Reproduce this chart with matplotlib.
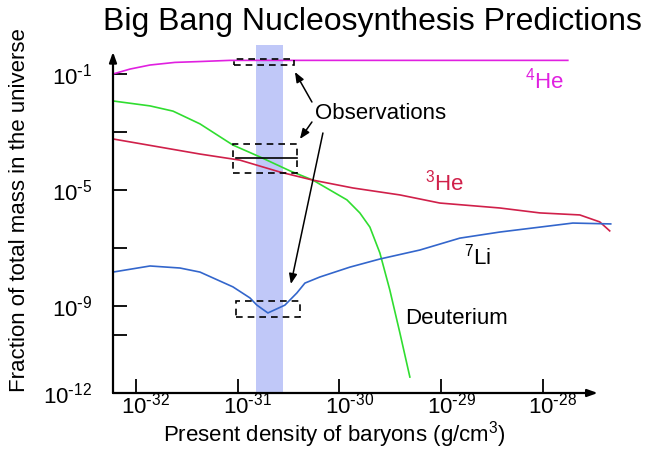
import numpy as np
import matplotlib.pyplot as plt
from matplotlib.patches import Rectangle
from matplotlib.ticker import FixedLocator, FuncFormatter, NullLocator
import matplotlib.transforms as mtransforms

plt.rcParams['font.family'] = ['Liberation Sans', 'DejaVu Sans']

# curves, stored as log10 values
he4_logx = [-32.226, -32.059, -31.862, -31.617, -31.371, -31.076, -30.388, -27.754]
he4_logy = [-1.0, -0.83, -0.69, -0.60, -0.57, -0.53, -0.53, -0.53]

d_logx = [-32.226, -31.862, -31.636, -31.371, -31.047, -30.781, -30.486, -30.260,
          -29.926, -29.799, -29.700, -29.602, -29.504, -29.405, -29.307]
d_logy = [-1.93, -2.10, -2.28, -2.72, -3.45, -3.86, -4.34, -4.66,
          -5.34, -5.79, -6.28, -7.17, -8.45, -9.93, -11.45]

he3_logx = [-32.226, -31.371, -30.978, -30.585, -30.260, -29.867, -29.405, -29.012,
            -28.423, -28.029, -27.636, -27.440, -27.342]
he3_logy = [-3.24, -3.76, -3.97, -4.38, -4.66, -4.93, -5.17, -5.45,
            -5.62, -5.79, -5.86, -6.10, -6.41]

li7_logx = [-32.226, -31.862, -31.568, -31.371, -31.047, -30.880, -30.811, -30.703,
            -30.536, -30.418, -30.339, -30.192, -29.897, -29.602, -29.209, -28.816,
            -28.423, -28.029, -27.705, -27.332]
li7_logy = [-7.83, -7.62, -7.69, -7.83, -8.34, -8.72, -8.97, -9.24,
            -8.97, -8.55, -8.21, -8.00, -7.66, -7.38, -7.07, -6.66,
            -6.45, -6.28, -6.14, -6.17]

# baryon density band and observation boxes (log10 x range, log10 y range)
band_logx = [-30.821, -30.555]
obs_he4 = ([-31.037, -30.447], [-0.69, -0.483])
obs_d = ([-31.047, -30.418], [-4.414, -3.414])
obs_d_line = ([-31.017, -30.418], -3.897)
obs_li = ([-31.017, -30.388], [-9.379, -8.828])

x_tick_exp = [-32, -31, -30, -29, -28]
y_tick_exp = [-12, -10, -9, -7, -5, -3, -1]
y_label_exp = [-12, -9, -5, -1]

MAGENTA = '#e020e0'
RED = '#d0204a'
GREEN = '#30dd30'
BLUE = '#3366cc'


def pow_label(e):
    # short hyphen like the original instead of the long math minus
    return r'$\mathregular{10^{\text{-}%d}}$' % abs(e)


fig = plt.figure(figsize=(6.55, 4.5), dpi=100)
ax = fig.add_axes([113 / 655, 57 / 450, 502 / 655, 348 / 450])
ax.set_xscale('log')
ax.set_yscale('log')
xmin = 10 ** -32.226
ax.set_xlim(xmin, 10 ** -27.29)
ax.set_ylim(1e-12, 1e0)

ax.axvspan(10 ** band_logx[0], 10 ** band_logx[1], color='#c0c8f8', lw=0, zorder=0)

p = lambda v: 10 ** np.array(v)
ax.plot(p(he4_logx), p(he4_logy), color=MAGENTA, lw=1.2, zorder=3)
ax.plot(p(d_logx), p(d_logy), color=GREEN, lw=1.2, zorder=3)
ax.plot(p(he3_logx), p(he3_logy), color=RED, lw=1.2, zorder=3)
ax.plot(p(li7_logx), p(li7_logy), color=BLUE, lw=1.2, zorder=3)

for bx, by in [obs_he4, obs_d, obs_li]:
    x0, x1 = p(bx)
    y0, y1 = p(by)
    ax.add_patch(Rectangle((x0, y0), x1 - x0, y1 - y0, fill=False, ec='black',
                           lw=1.2, ls=(0, (4, 3)), zorder=4))
ax.plot(p(obs_d_line[0]), [10 ** obs_d_line[1]] * 2, color='black', lw=1.2, zorder=4)

# arrows from the "Observations" text to the boxes
arrow_kw = dict(arrowstyle='-|>,head_length=0.5,head_width=0.2', color='black',
                lw=1.1, shrinkA=0, shrinkB=0, mutation_scale=12)
arrows = [((-30.270, -1.966), (-30.437, -0.931)),
          ((-30.270, -2.655), (-30.388, -3.241)),
          ((-30.162, -3.034), (-30.477, -8.241))]
for start, tip in arrows:
    ax.annotate('', xy=(10 ** tip[0], 10 ** tip[1]), xytext=(10 ** start[0], 10 ** start[1]),
                arrowprops=arrow_kw, zorder=5)

ax.text(10 ** -30.241, 10 ** -2.345, 'Observations', fontsize=16, va='center', ha='left')
ax.text(10 ** -27.98, 10 ** -1.241, r'$\mathregular{^{4}}$He', color=MAGENTA, fontsize=16,
        va='center', ha='center')
ax.text(10 ** -28.963, 10 ** -4.759, r'$\mathregular{^{3}}$He', color=RED, fontsize=16,
        va='center', ha='center')
ax.text(10 ** -28.639, 10 ** -7.31, r'$\mathregular{^{7}}$Li', color='black', fontsize=16,
        va='center', ha='center')
ax.text(10 ** -29.356, 10 ** -9.414, 'Deuterium', color='black', fontsize=16,
        va='center', ha='left')

# axes drawn as arrows
for s in ax.spines.values():
    s.set_visible(False)
axis_kw = dict(arrowstyle='-|>,head_length=0.5,head_width=0.18', color='black',
               lw=1.6, shrinkA=0, shrinkB=0, mutation_scale=12)
ax.annotate('', xy=(xmin, 10 ** -0.24), xytext=(xmin, 1e-12), arrowprops=axis_kw,
            annotation_clip=False)
ax.annotate('', xy=(10 ** -27.46, 1e-12), xytext=(xmin, 1e-12), arrowprops=axis_kw,
            annotation_clip=False)

ax.xaxis.set_major_locator(FixedLocator([10.0 ** e for e in x_tick_exp]))
ax.xaxis.set_minor_locator(NullLocator())
ax.yaxis.set_major_locator(FixedLocator([10.0 ** e for e in y_tick_exp]))
ax.yaxis.set_minor_locator(NullLocator())
ax.xaxis.set_major_formatter(FuncFormatter(lambda v, pos: pow_label(round(np.log10(v)))))
ax.yaxis.set_major_formatter(FuncFormatter(
    lambda v, pos: pow_label(round(np.log10(v))) if round(np.log10(v)) in y_label_exp else ''))
ax.tick_params(axis='both', direction='in', length=10, width=1.3, labelsize=16)
ax.tick_params(axis='x', pad=2)
ax.tick_params(axis='y', pad=15)

shift = mtransforms.ScaledTranslation(10 / 100, 3 / 100, fig.dpi_scale_trans)
for lab in ax.get_xticklabels():
    lab.set_transform(lab.get_transform() + shift)

fig.text(372 / 655, 1 - 22 / 450, 'Big Bang Nucleosynthesis Predictions', fontsize=23,
         ha='center', va='center')
fig.text(20 / 655, 1 - 210 / 450, 'Fraction of total mass in the universe', fontsize=16,
         rotation=90, ha='center', va='center')
fig.text(334 / 655, 1 - 441 / 450, r'Present density of baryons (g/cm$\mathregular{^{3}}$)',
         fontsize=16, ha='center', va='baseline')

fig.savefig('out.png', dpi=100)
